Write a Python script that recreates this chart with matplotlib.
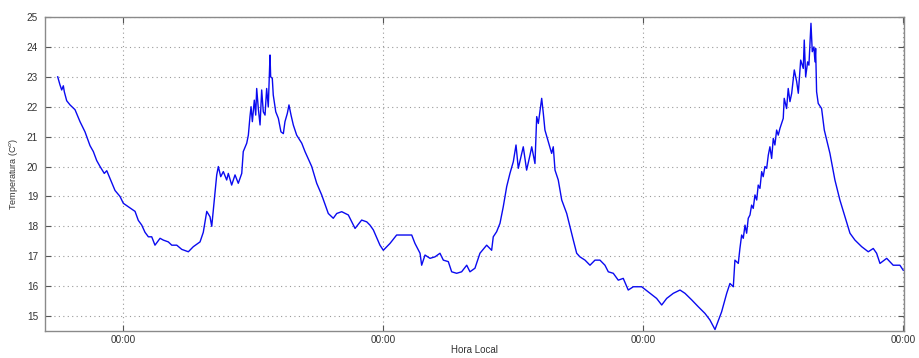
import matplotlib
matplotlib.use("Agg")
import matplotlib.pyplot as plt
import numpy as np

# Hours relative to the first local midnight, and air temperature (deg C)
hours = [
    -6.03, -5.82, -5.66, -5.51, -5.42, -5.20, -4.89, -4.43, -3.97, -3.51,
    -3.05, -2.74, -2.43, -2.12, -1.73, -1.50, -1.20, -0.74, -0.28, 0.03,
    1.11, 1.41, 1.73, 2.03, 2.34, 2.65, 2.95, 3.42, 3.72, 4.18,
    4.50, 4.96, 5.42, 6.03, 6.49, 7.11, 7.41, 7.73, 8.03, 8.19,
    8.49, 8.65, 8.80, 9.02, 9.26, 9.57, 9.72, 10.03, 10.34, 10.64,
    10.96, 11.10, 11.42, 11.57, 11.72, 11.82, 11.94, 12.12, 12.25, 12.34,
    12.49, 12.65, 12.80, 12.95, 13.11, 13.26, 13.41, 13.57, 13.63, 13.78,
    13.87, 14.10, 14.34, 14.58, 14.80, 14.95, 15.17, 15.32, 15.51, 15.72,
    16.03, 16.50, 16.80, 17.42, 17.88, 18.34, 18.95, 19.41,
    19.73, 20.19, 20.80, 21.42, 22.03, 22.50, 22.80, 23.11, 23.72, 24.03,
    24.65, 25.26, 26.03, 26.65, 26.95, 27.42, 27.57, 27.88, 28.34, 28.80,
    29.26, 29.57, 30.03, 30.34, 30.80, 31.26, 31.73, 32.03, 32.49, 32.95,
    33.57, 34.03, 34.18, 34.49, 34.80, 35.10, 35.42, 35.72, 36.03, 36.28,
    36.49, 36.95, 37.26, 37.57, 37.73, 38.03, 38.19, 38.34, 38.65, 38.80,
    38.95, 39.26, 39.57, 39.72, 39.88, 40.18, 40.50, 40.96, 41.26, 41.57,
    41.88, 42.18, 42.65, 43.11, 43.57, 44.03, 44.49, 44.80, 45.26, 45.72,
    46.18, 46.64, 47.11, 47.88, 48.65, 49.26, 49.73, 50.19, 50.80, 51.42,
    51.88, 52.50, 53.11, 53.72, 54.18, 54.65, 55.26, 55.73, 56.03, 56.34,
    56.49, 56.80, 56.95, 57.11, 57.26, 57.42, 57.57, 57.72, 57.88, 58.03,
    58.18, 58.34, 58.50, 58.64, 58.80, 58.96, 59.10, 59.26, 59.42, 59.57,
    59.72, 59.88, 60.03, 60.18, 60.34, 60.49, 60.65, 60.95, 61.04, 61.26,
    61.41, 61.57, 61.73, 61.97, 62.19, 62.34, 62.56, 62.80, 62.89, 63.02,
    63.20, 63.32, 63.51, 63.63, 63.78, 63.88, 63.94, 64.03, 64.18, 64.49,
    64.74, 65.26, 65.72, 66.18, 66.65, 67.11, 67.57,
    68.19, 68.80, 69.26, 69.57, 69.88, 70.50, 71.10, 71.72, 72.03,
]
temperature = [
    23.00, 22.73, 22.56, 22.70, 22.50, 22.20, 22.06, 21.90, 21.50, 21.16,
    20.70, 20.50, 20.20, 20.00, 19.77, 19.86, 19.60, 19.20, 19.00, 18.77,
    18.50, 18.20, 18.04, 17.80, 17.65, 17.65, 17.37, 17.60, 17.54, 17.48,
    17.37, 17.37, 17.23, 17.15, 17.32, 17.48, 17.80, 18.50, 18.32, 18.00,
    19.10, 19.72, 20.00, 19.66, 19.83, 19.55, 19.77, 19.38, 19.72, 19.44,
    19.77, 20.50, 20.78, 21.05, 21.67, 22.00, 21.50, 22.22, 21.72, 22.61,
    21.94, 21.39, 22.56, 21.83, 21.72, 22.61, 22.00, 23.73, 23.00, 22.95,
    22.39, 21.83, 21.61, 21.16, 21.10, 21.50, 21.78, 22.06, 21.72, 21.39,
    21.05, 20.78, 20.50, 20.00, 19.44, 19.05, 18.43, 18.27,
    18.43, 18.49, 18.38, 17.93, 18.21, 18.15, 18.04, 17.88, 17.37, 17.20,
    17.43, 17.71, 17.71, 17.71, 17.43, 17.10, 16.70, 17.04, 16.93, 16.98,
    17.10, 16.87, 16.82, 16.48, 16.43, 16.48, 16.70, 16.48, 16.60, 17.10,
    17.37, 17.20, 17.65, 17.82, 18.10, 18.65, 19.33, 19.77, 20.16, 20.72,
    19.94, 20.66, 19.88, 20.38, 20.66, 20.10, 21.67, 21.44, 22.28, 21.78,
    21.22, 20.83, 20.44, 20.66, 19.88, 19.55, 18.88, 18.43, 17.99, 17.54,
    17.10, 16.98, 16.87, 16.70, 16.87, 16.87, 16.70, 16.48, 16.43, 16.20,
    16.26, 15.87, 15.98, 15.98, 15.76, 15.59, 15.37, 15.59, 15.76, 15.87,
    15.76, 15.54, 15.31, 15.09, 14.87, 14.55, 15.14, 15.76, 16.09, 15.98,
    16.87, 16.76, 17.26, 17.71, 17.60, 18.04, 17.77, 18.27, 18.38, 18.71,
    18.60, 19.05, 18.88, 19.38, 19.27, 19.83, 19.66, 20.00, 19.94, 20.38,
    20.66, 20.27, 20.94, 20.72, 21.22, 21.05, 21.28, 21.61, 22.28, 21.94,
    22.61, 22.17, 22.45, 23.23, 22.84, 22.45, 23.56, 23.28, 24.23, 23.00,
    23.50, 23.39, 24.79, 23.84, 24.00, 23.50, 23.95, 22.50, 22.11, 21.94,
    21.22, 20.44, 19.55, 18.88, 18.32, 17.77, 17.54,
    17.32, 17.15, 17.26, 17.10, 16.76, 16.93, 16.70, 16.70, 16.53,
]
midnight_ticks = [0, 24, 48, 72]
midnight_labels = ["00:00", "00:00", "00:00", "00:00"]
temp_ticks = [15, 16, 17, 18, 19, 20, 21, 22, 23, 24, 25]

plt.rcParams["font.family"] = ["Liberation Sans", "DejaVu Sans"]

fig = plt.figure(figsize=(9.19, 3.58), dpi=100)
ax = fig.add_axes([0.049, 0.0754, 0.9347, 0.8771])

ax.plot(hours, temperature, color="#0a0af0", lw=1.0)

ax.set_xlim(-7.2, 72.1)
ax.set_ylim(14.5, 25)
ax.set_xticks(midnight_ticks)
ax.set_xticklabels(midnight_labels)
ax.set_yticks(temp_ticks)

ax.grid(True, which="major", linestyle=(0, (1, 3)), color="#9a9a9a", lw=0.8)
ax.tick_params(direction="in", length=4, width=0.8, color="#555555",
               top=True, right=True, labelsize=7.2, labelcolor="#333333")
ax.tick_params(axis="x", pad=3)
ax.tick_params(axis="y", pad=5)
for s in ax.spines.values():
    s.set_color("#8a8a8a")
    s.set_linewidth(1.0)

ax.set_ylabel("Temperatura (C$^o$)", fontsize=6.5, color="#333333", labelpad=5)
ax.set_xlabel("Hora Local", fontsize=7, color="#333333", labelpad=0)

fig.savefig("out.png", dpi=100)
